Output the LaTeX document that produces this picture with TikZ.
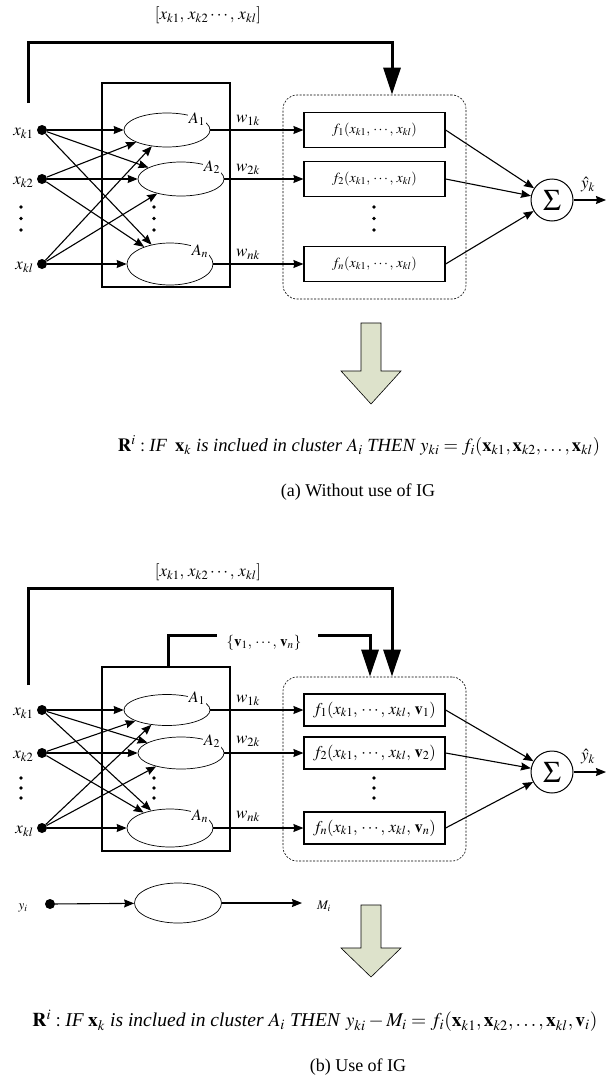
\documentclass[tikz,border=0pt]{standalone}
\usepackage{mathptmx}
\usepackage[no-math]{fontspec}
\setmainfont{Liberation Serif}
\usepackage{xcolor}
\usetikzlibrary{arrows.meta,shapes.geometric}
\definecolor{bigarrow}{RGB}{221,226,203}
\newcommand{\bx}{\mathbf{x}}
\newcommand{\fsz}[1]{\fontsize{#1}{#1}\selectfont}

\begin{document}
\begin{tikzpicture}[
  x=1pt, y=-1pt,
  font=\fsz{17},
  >={Stealth[length=10pt,width=8pt,inset=1pt]},
  % ---- node styles ----
  indot/.style={circle, fill=black, inner sep=0pt, minimum size=10pt},
  memb/.style={ellipse, draw, line width=0.7pt, inner sep=0pt,
    minimum width=86pt, minimum height=34pt},
  alabel/.style={fill=white, inner sep=0.6pt, font=\fsz{16}},
  mfbox/.style={draw, line width=1.2pt, inner sep=0pt, minimum width=128pt},
  fnbox/.style={draw, line width=1.2pt, inner sep=0pt,
    minimum width=141pt, minimum height=35pt, font=\fsz{14}},
  famfbox/.style={draw, line width=0.6pt, dash pattern=on 2pt off 1.5pt,
    rounded corners=14pt, minimum width=183pt},
  sumnode/.style={circle, draw, line width=1pt, minimum size=42pt, inner sep=0pt,
    font=\fsz{30}},
  % ---- line styles ----
  conn/.style={->, line width=1.1pt},
  fbline/.style={line width=3pt},
  fbarrow/.style={line width=3pt, -{Triangle[length=27pt,width=17pt]}},
  smalllab/.style={font=\fsz{13}},
  rulelab/.style={font=\fsz{14}},
  caplab/.style={font=\fsz{18}},
]
\useasboundingbox (0,0) rectangle (612,1092);

% ==== (a) Without use of IG ====
\node (a-vec) at (208,15) {$[x_{k1},\, x_{k2}\cdots,\, x_{kl}]$};

% ---- inputs ----
\node[indot] (a-in1) at (42,130) {};
\node[indot] (a-in2) at (42,179) {};
\node[indot] (a-inl) at (42,264) {};
\node[anchor=east] (a-lx1) at (37,133) {$x_{k1}$};
\node[anchor=east] (a-lx2) at (37,182) {$x_{k2}$};
\node[anchor=east] (a-lxl) at (37,267) {$x_{kl}$};
\foreach \y in {207,218.5,230} \fill (21,\y) circle (1.8pt);

% ---- membership functions ----
\node[mfbox, minimum height=204pt] (a-mf) at (166,185) {};
\node[memb] (a-A1) at (167,130) {};
\node[memb] (a-A2) at (181,179) {};
\node[memb, minimum height=42pt] (a-An) at (170,264) {};
\node[alabel] (a-lA1) at (197,119) {$A_1$};
\node[alabel] (a-lA2) at (212,167) {$A_2$};
\node[alabel] (a-lAn) at (200,251) {$A_n$};
\foreach \y in {207,218.5,230} \fill (154,\y) circle (1.8pt);

% ---- fully connected inputs ----
\foreach \i in {in1,in2,inl}
  \foreach \j in {A1,A2,An}
    \draw[conn] (a-\i) -- (a-\j);

% ---- consequent functions ----
\node[famfbox, minimum height=204pt] (a-fam) at (374.5,197) {};
\node[fnbox] (a-f1) at (374.5,130) {$f_1(x_{k1},\,\cdots,\,x_{kl})$};
\node[fnbox] (a-f2) at (374.5,179) {$f_2(x_{k1},\,\cdots,\,x_{kl})$};
\node[fnbox] (a-fn) at (374.5,264) {$f_n(x_{k1},\,\cdots,\,x_{kl})$};
\foreach \y in {207,218.5,230} \fill (374,\y) circle (1.8pt);

\draw[conn] (a-A1.east) -- (a-f1.west);
\draw[conn] (a-A2.east) -- (a-f2.west);
\draw[conn] (a-An.east) -- (a-fn.west);
\node (a-w1) at (248,120) {$w_{1k}$};
\node (a-w2) at (248,169) {$w_{2k}$};
\node (a-wn) at (248,254) {$w_{nk}$};

% ---- sum and output ----
\node[sumnode] (a-sum) at (552,200) {$\Sigma$};
\coordinate (a-out) at (606,200);
\draw[conn] (a-f1.east) -- (a-sum);
\draw[conn] (a-f2.east) -- (a-sum);
\draw[conn] (a-fn.east) -- (a-sum);
\draw[conn] (a-sum) -- (a-out);
\node (a-yhat) at (588,185) {$\hat{y}_k$};

% ---- input feedback ----
\coordinate (a-fb0) at (28,103);
\coordinate (a-fb1) at (392,42);
\draw[fbarrow] (a-fb0) |- (a-fb1) -- (a-fb1 |- a-fam.north);

% ---- block arrow ----
\draw[fill=bigarrow, line width=0.6pt] (361,323) -- (381,323) -- (381,371)
  -- (401,371) -- (371,404) -- (341,371) -- (361,371) -- cycle;

\node[rulelab] (a-rule) at (359,446) {\resizebox{482pt}{!}{$\mathbf{R}^i:\textit{IF}\;\; \bx_k$ \textit{is inclued in cluster} $A_i$ \textit{THEN} $y_{ki}=f_i(\bx_{k1},\bx_{k2},\ldots,\bx_{kl})$}};
\node[caplab] (a-cap) at (358,492) {(a) Without use of IG};

% ==== (b) Use of IG ====
\node (b-vec) at (208,572) {$[x_{k1},\, x_{k2}\cdots,\, x_{kl}]$};

% ---- inputs ----
\node[indot] (b-in1) at (42,710) {};
\node[indot] (b-in2) at (42,753) {};
\node[indot] (b-inl) at (42,828) {};
\node[anchor=east] (b-lx1) at (37,713) {$x_{k1}$};
\node[anchor=east] (b-lx2) at (37,756) {$x_{k2}$};
\node[anchor=east] (b-lxl) at (37,831) {$x_{kl}$};
\foreach \y in {778,788,798} \fill (21,\y) circle (1.8pt);

% ---- membership functions ----
\node[mfbox, minimum height=184pt] (b-mf) at (166,759) {};
\node[memb, minimum height=31pt] (b-A1) at (167,710) {};
\node[memb, minimum height=32pt] (b-A2) at (181,753) {};
\node[memb, minimum height=38pt] (b-An) at (170,828) {};
\node[alabel] (b-lA1) at (197,698) {$A_1$};
\node[alabel] (b-lA2) at (212,741) {$A_2$};
\node[alabel] (b-lAn) at (200,816) {$A_n$};
\foreach \y in {778,788,798} \fill (154,\y) circle (1.8pt);

% ---- fully connected inputs ----
\foreach \i in {in1,in2,inl}
  \foreach \j in {A1,A2,An}
    \draw[conn] (b-\i) -- (b-\j);

% ---- consequent functions ----
\node[famfbox, minimum height=184pt] (b-fam) at (374.5,769) {};
\node[fnbox, minimum height=32pt, font=\fsz{16.5}] (b-f1) at (374.5,710) {$f_1(x_{k1},\,\cdots,\,x_{kl},\,\mathbf{v}_1)$};
\node[fnbox, minimum height=32pt, font=\fsz{16.5}] (b-f2) at (374.5,753) {$f_2(x_{k1},\,\cdots,\,x_{kl},\,\mathbf{v}_2)$};
\node[fnbox, minimum height=32pt, font=\fsz{16.5}] (b-fn) at (374.5,828) {$f_n(x_{k1},\,\cdots,\,x_{kl},\,\mathbf{v}_n)$};
\foreach \y in {778,788,798} \fill (374,\y) circle (1.8pt);

\draw[conn] (b-A1.east) -- (b-f1.west);
\draw[conn] (b-A2.east) -- (b-f2.west);
\draw[conn] (b-An.east) -- (b-fn.west);
\node (b-w1) at (248,700) {$w_{1k}$};
\node (b-w2) at (248,741) {$w_{2k}$};
\node (b-wn) at (248,816) {$w_{nk}$};

% ---- sum and output ----
\node[sumnode] (b-sum) at (552,772) {$\Sigma$};
\coordinate (b-out) at (606,772);
\draw[conn] (b-f1.east) -- (b-sum);
\draw[conn] (b-f2.east) -- (b-sum);
\draw[conn] (b-fn.east) -- (b-sum);
\draw[conn] (b-sum) -- (b-out);
\node (b-yhat) at (588,757) {$\hat{y}_k$};

% ---- input feedback ----
\coordinate (b-fb0) at (28,685);
\coordinate (b-fb1) at (392,588);
\draw[fbarrow] (b-fb0) |- (b-fb1) -- (b-fb1 |- b-fam.north);

% ---- prototype feedback ----
\node[font=\fsz{15}] (b-vlab) at (264,643) {$\{\mathbf{v}_1,\,\cdots,\,\mathbf{v}_n\}$};
\coordinate (b-v0) at (168,667);
\coordinate (b-v1) at (217,635);
\coordinate (b-v2) at (318,635);
\coordinate (b-v3) at (370,635);
\draw[fbline] (b-v0) |- (b-v1);
\draw[fbarrow] (b-v2) -- (b-v3) -- (b-v3 |- b-fam.north);

% ---- output mean ----
\node[indot] (b-y) at (50,904) {};
\node[smalllab] (b-ly) at (23,908) {$y_i$};
\node[memb, minimum width=87pt, minimum height=40pt] (b-M) at (178,903) {};
\coordinate (b-Mout) at (302,903);
\node[smalllab] (b-lM) at (324,906) {$M_i$};
\draw[conn] (b-y) -- (b-M);
\draw[conn] (b-M) -- (b-Mout);

% ---- block arrow ----
\draw[fill=bigarrow, line width=0.6pt] (361,905) -- (381,905) -- (381,948)
  -- (401,948) -- (371,977) -- (341,948) -- (361,948) -- cycle;

\node[rulelab] (b-rule) at (315,1021) {\resizebox{565pt}{!}{$\mathbf{R}^i:\textit{IF}\;\bx_k$ \textit{is inclued in cluster} $A_i$ \textit{THEN} $y_{ki}-M_i=f_i(\bx_{k1},\bx_{k2},\ldots,\bx_{kl},\mathbf{v}_i)$}};
\node[caplab] (b-cap) at (358,1067) {(b) Use of IG};

\end{tikzpicture}
\end{document}
